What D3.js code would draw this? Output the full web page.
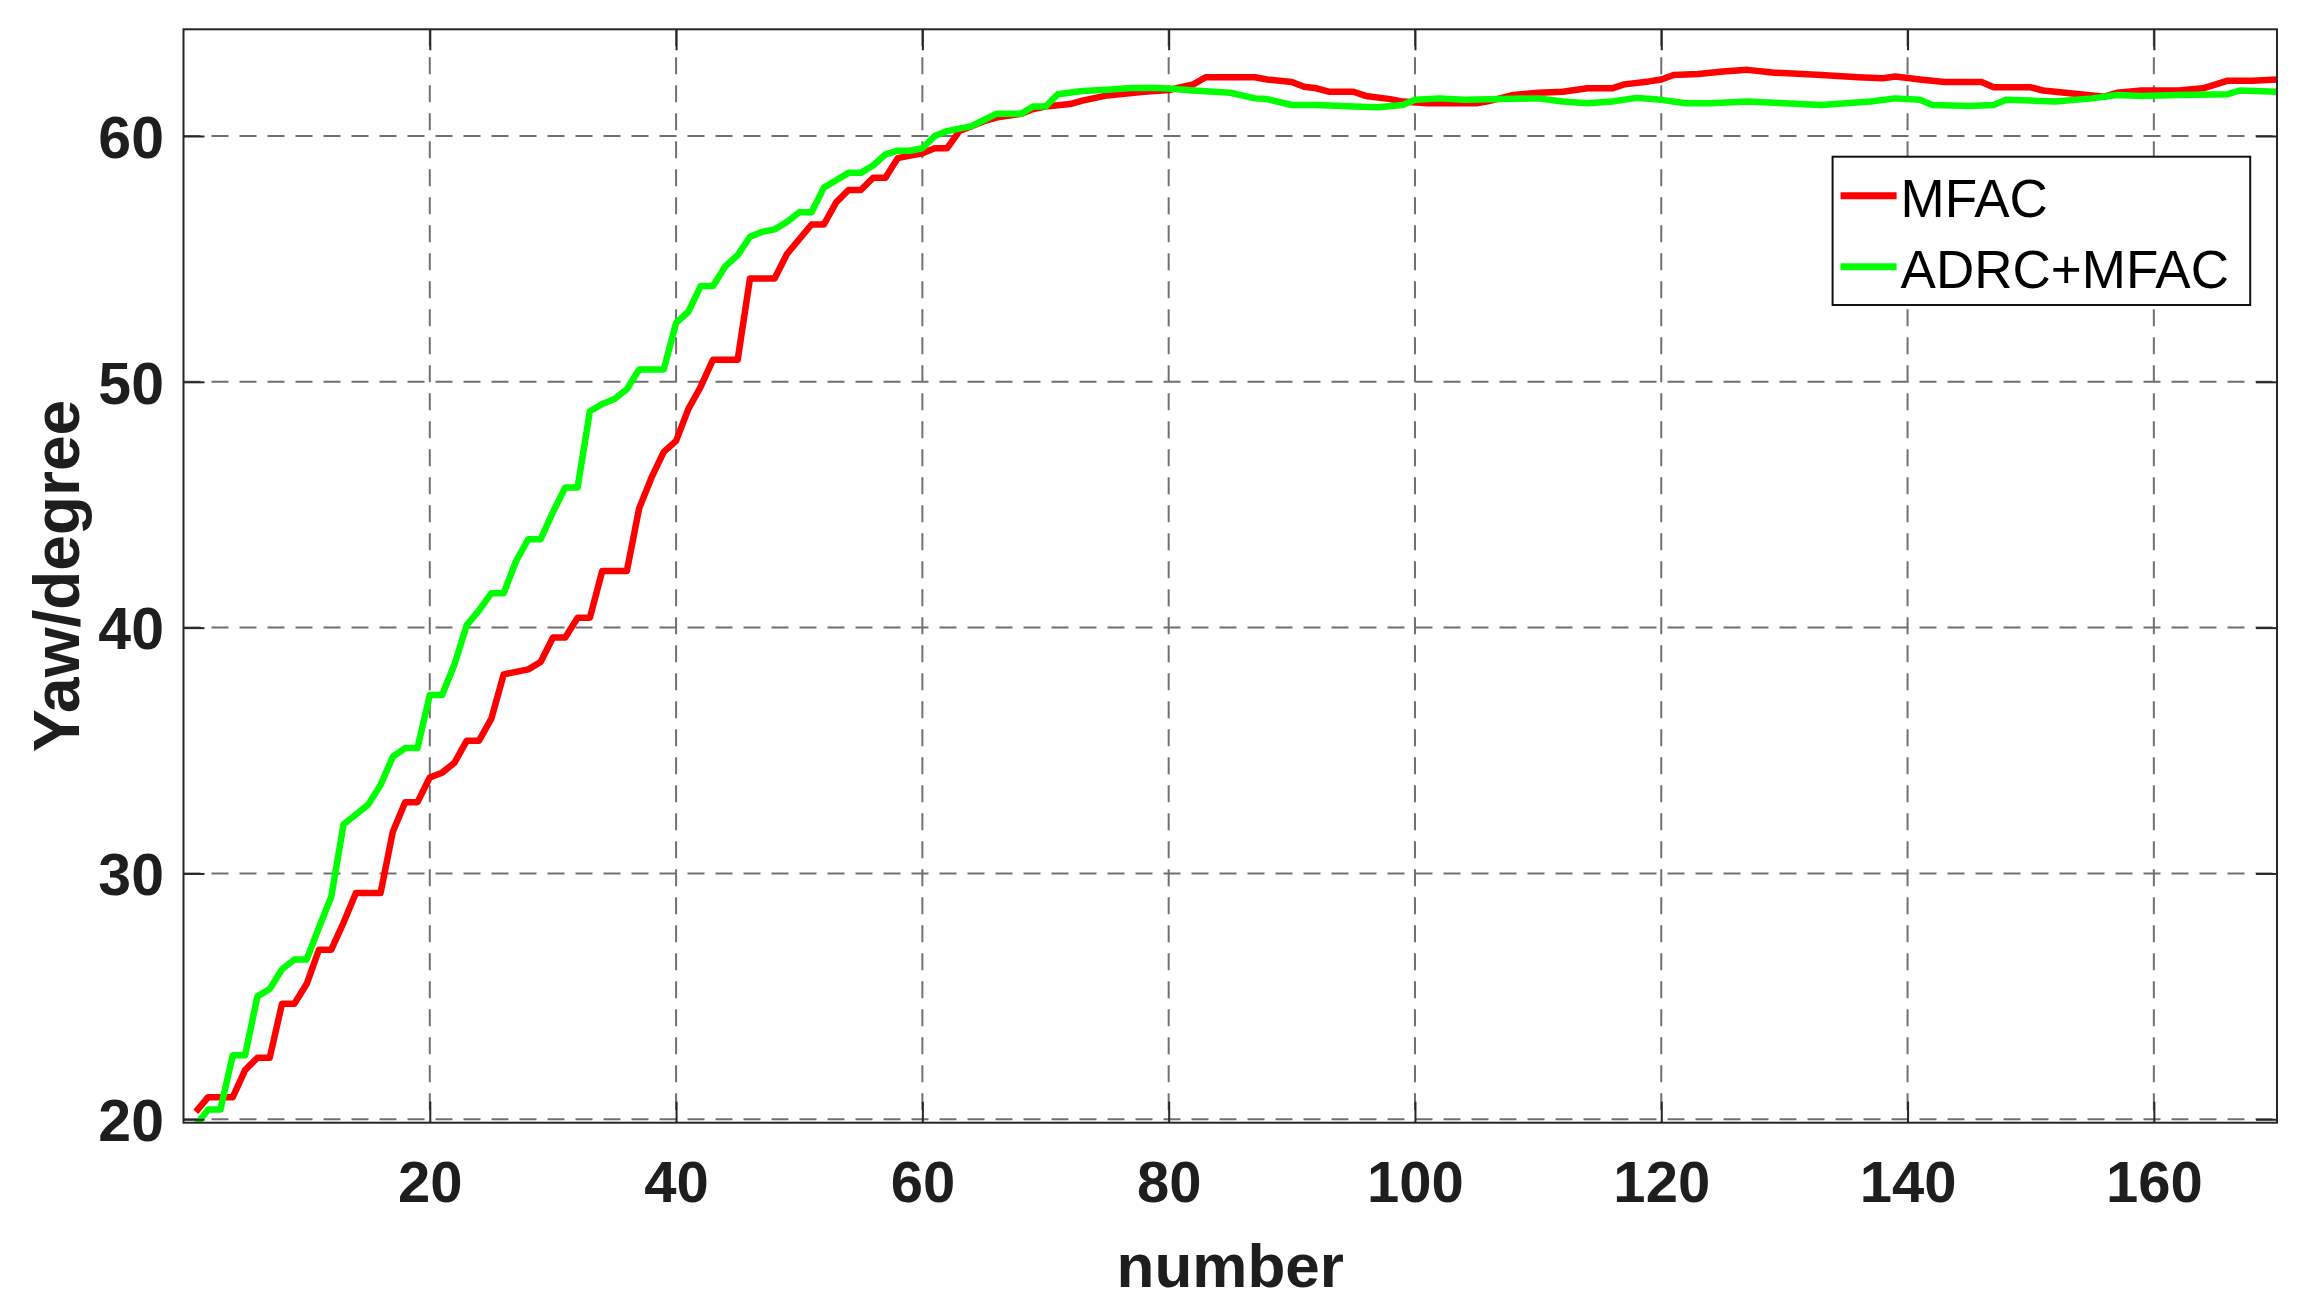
<!DOCTYPE html>
<html>
<head>
<meta charset="utf-8">
<script src="https://cdn.jsdelivr.net/npm/d3@7"></script>
<style>
  body { margin: 0; background: #fff; }
  svg { display: block; font-family: "Liberation Sans", Arial, sans-serif; }
</style>
</head>
<body>
<div id="chart"></div>
<script>
// sample number / yaw (degree)
const mfacN = [1, 2, 4, 5, 6, 7, 8, 9, 10, 11, 12, 13, 14, 16, 17, 18, 19, 20, 21, 22, 23, 24, 25, 26, 28, 29, 30, 31, 32, 33, 34, 36, 37, 38, 39, 40,
    41, 42, 43, 45, 46, 48, 49, 50, 51, 52, 53, 54, 55, 56, 57, 58, 59, 60, 61, 62, 63, 64, 65, 66, 68, 69, 70, 72, 73, 75, 77, 78, 80,
    82, 83, 87, 88, 90, 91, 92, 93, 95, 96, 98, 99, 101, 105, 106, 108, 110, 112, 114, 116, 117, 119, 120, 121, 123, 125, 127, 129,
    133, 136, 138, 139, 141, 143, 146, 147, 150, 151, 154, 156, 157, 159, 162, 164, 166, 168, 170];
const mfacYaw = [20.3, 20.9, 20.9, 22.0, 22.5, 22.5, 24.7, 24.7, 25.5, 26.9, 26.9, 28.0, 29.2, 29.2, 31.7, 32.9, 32.9, 33.9, 34.1, 34.5, 35.4, 35.4, 36.3, 38.1, 38.3, 38.6, 39.6, 39.6, 40.4, 40.4, 42.3, 42.3, 44.85, 46.1, 47.15, 47.6,
    48.9, 49.8, 50.9, 50.9, 54.2, 54.2, 55.2, 55.8, 56.4, 56.4, 57.3, 57.8, 57.8, 58.3, 58.3, 59.1, 59.2, 59.3, 59.5, 59.5, 60.2, 60.4, 60.6, 60.75, 60.9, 61.1, 61.2, 61.3, 61.44, 61.65, 61.75, 61.8, 61.87,
    62.1, 62.39, 62.39, 62.3, 62.2, 62.0, 61.94, 61.8, 61.8, 61.63, 61.5, 61.4, 61.33, 61.33, 61.42, 61.67, 61.76, 61.8, 61.94, 61.94, 62.1, 62.22, 62.3, 62.48, 62.52, 62.62, 62.69, 62.58,
    62.48, 62.39, 62.35, 62.42, 62.3, 62.2, 62.2, 61.98, 61.98, 61.85, 61.7, 61.6, 61.76, 61.85, 61.85, 61.94, 62.25, 62.25, 62.3];

const adrcN = [1, 2, 3, 4, 5, 6, 7, 8, 9, 10, 11, 12, 13, 14, 15, 16, 17, 18, 19, 20, 21, 22, 23, 24, 25, 26, 27, 28, 29, 30, 31, 32, 33, 34, 35, 36, 37, 39,
    40, 41, 42, 43, 44, 45, 46, 47, 48, 49, 50, 51, 52, 53, 54, 55, 56, 57, 58, 59, 60, 61, 62, 63, 64, 65, 66, 68, 69, 70, 71, 73, 75, 77, 79,
    80, 82, 85, 87, 88, 90, 92, 95, 97, 99, 100, 102, 104, 106, 110, 112, 114, 116, 118, 120, 122, 124, 127, 130, 133, 135, 137, 139,
    141, 142, 145, 147, 148, 150, 152, 155, 157, 159, 162, 166, 167, 170];
const adrcYaw = [19.75, 20.4, 20.4, 22.6, 22.6, 25.0, 25.3, 26.1, 26.5, 26.5, 27.8, 29.05, 32.0, 32.4, 32.8, 33.6, 34.75, 35.1, 35.1, 37.26, 37.26, 38.5, 40.1, 40.7, 41.4, 41.4, 42.7, 43.6, 43.6, 44.7, 45.7, 45.7, 48.8, 49.1, 49.3, 49.7, 50.5, 50.5,
    52.4, 52.85, 53.9, 53.9, 54.7, 55.15, 55.9, 56.1, 56.2, 56.5, 56.9, 56.9, 57.9, 58.2, 58.5, 58.5, 58.8, 59.25, 59.4, 59.4, 59.5, 60.0, 60.2, 60.3, 60.4, 60.65, 60.9, 60.9, 61.2, 61.2, 61.7, 61.83, 61.88, 61.95, 61.95,
    61.93, 61.85, 61.76, 61.53, 61.5, 61.26, 61.26, 61.2, 61.17, 61.26, 61.47, 61.53, 61.47, 61.49, 61.53, 61.4, 61.33, 61.4, 61.55, 61.47, 61.33, 61.33, 61.4, 61.33, 61.26, 61.33, 61.4, 61.53,
    61.47, 61.26, 61.22, 61.26, 61.47, 61.44, 61.4, 61.53, 61.67, 61.63, 61.67, 61.7, 61.85, 61.8];

const xTicks = [20, 40, 60, 80, 100, 120, 140, 160];
const yTicks = [20, 30, 40, 50, 60];
const seriesNames = ["MFAC", "ADRC+MFAC"];
const seriesColors = ["#ff0000", "#00ff00"];

const margin = { top: 29.3, right: 30, bottom: 189.3, left: 183.5 };
const width = 2307 - margin.left - margin.right;
const height = 1312 - margin.top - margin.bottom;
const tickLen = 21;
const axisColor = "#262626";

const svg = d3.select("#chart").append("svg")
    .attr("width", 2307)
    .attr("height", 1312);

const g = svg.append("g")
    .attr("transform", "translate(" + margin.left + "," + margin.top + ")");

const x = d3.scaleLinear().domain([0, 170]).range([0, width]);
const y = d3.scaleLinear().domain([19.86, 64.34]).range([height, 0]);

// dashed grid
g.append("g").selectAll("line")
    .data(xTicks)
    .enter().append("line")
    .attr("x1", d => x(d)).attr("x2", d => x(d))
    .attr("y1", 0).attr("y2", height)
    .attr("stroke", "#707070")
    .attr("stroke-width", 2)
    .attr("stroke-dasharray", "17,11");

g.append("g").selectAll("line")
    .data(yTicks)
    .enter().append("line")
    .attr("x1", 0).attr("x2", width)
    .attr("y1", d => y(d)).attr("y2", d => y(d))
    .attr("stroke", "#707070")
    .attr("stroke-width", 2)
    .attr("stroke-dasharray", "17,11");

// series
g.append("clipPath").attr("id", "plotClip")
    .append("rect").attr("width", width).attr("height", height);

const line = d3.line()
    .x(d => x(d[0]))
    .y(d => y(d[1]));

const series = [
    d3.zip(mfacN, mfacYaw),
    d3.zip(adrcN, adrcYaw)
];

g.append("g")
    .attr("clip-path", "url(#plotClip)")
    .selectAll("path")
    .data(series)
    .enter().append("path")
    .attr("d", line)
    .attr("fill", "none")
    .attr("stroke", (d, i) => seriesColors[i])
    .attr("stroke-width", 6.5)
    .attr("stroke-linejoin", "round");

// axes, ticks pointing inward on all four sides
function styleAxis(sel) {
    sel.select(".domain").remove();
    sel.selectAll(".tick line").attr("stroke", axisColor).attr("stroke-width", 2);
}

const xAxis = g.append("g")
    .attr("transform", "translate(0," + height + ")")
    .call(d3.axisBottom(x).tickValues(xTicks).tickSizeInner(-tickLen).tickSizeOuter(0).tickPadding(0))
    .call(styleAxis);
xAxis.selectAll(".tick text")
    .attr("y", 79.3)
    .attr("dy", 0)
    .attr("fill", "#1e1e1e")
    .style("font-size", "58px")
    .style("font-weight", "bold");

g.append("g")
    .call(d3.axisTop(x).tickValues(xTicks).tickSizeInner(-tickLen).tickSizeOuter(0).tickFormat(""))
    .call(styleAxis);

const yAxis = g.append("g")
    .call(d3.axisLeft(y).tickValues(yTicks).tickSizeInner(-tickLen).tickSizeOuter(0))
    .call(styleAxis);
yAxis.selectAll(".tick text")
    .attr("x", -19.5)
    .attr("dy", "0.36em")
    .attr("fill", "#1e1e1e")
    .style("font-size", "59px")
    .style("font-weight", "bold");

g.append("g")
    .attr("transform", "translate(" + width + ",0)")
    .call(d3.axisRight(y).tickValues(yTicks).tickSizeInner(-tickLen).tickSizeOuter(0).tickFormat(""))
    .call(styleAxis);

g.append("rect")
    .attr("width", width)
    .attr("height", height)
    .attr("fill", "none")
    .attr("stroke", axisColor)
    .attr("stroke-width", 2);

// axis titles
g.append("text")
    .attr("x", width / 2)
    .attr("y", height + 164)
    .attr("text-anchor", "middle")
    .attr("fill", "#1e1e1e")
    .style("font-size", "62px")
    .style("font-weight", "bold")
    .text("number");

g.append("text")
    .attr("transform", "translate(" + (79.3 - margin.left) + "," + (height / 2) + ") rotate(-90)")
    .attr("text-anchor", "middle")
    .attr("fill", "#1e1e1e")
    .style("font-size", "64px")
    .style("font-weight", "bold")
    .text("Yaw/degree");

// legend
const legend = g.append("g")
    .attr("transform", "translate(" + (1832.6 - margin.left) + "," + (156.7 - margin.top) + ")");

legend.append("rect")
    .attr("width", 417.6)
    .attr("height", 148.3)
    .attr("fill", "#fff")
    .attr("stroke", "#111")
    .attr("stroke-width", 2);

const entry = legend.selectAll(".entry")
    .data(seriesNames)
    .enter().append("g")
    .attr("class", "entry")
    .attr("transform", (d, i) => "translate(0," + (39 + i * 71) + ")");

entry.append("line")
    .attr("x1", 8).attr("x2", 64)
    .attr("stroke", (d, i) => seriesColors[i])
    .attr("stroke-width", 7);

entry.append("text")
    .attr("x", 68)
    .attr("y", 21.5)
    .attr("fill", "#000")
    .style("font-size", "53px")
    .text(d => d);
</script>
</body>
</html>
